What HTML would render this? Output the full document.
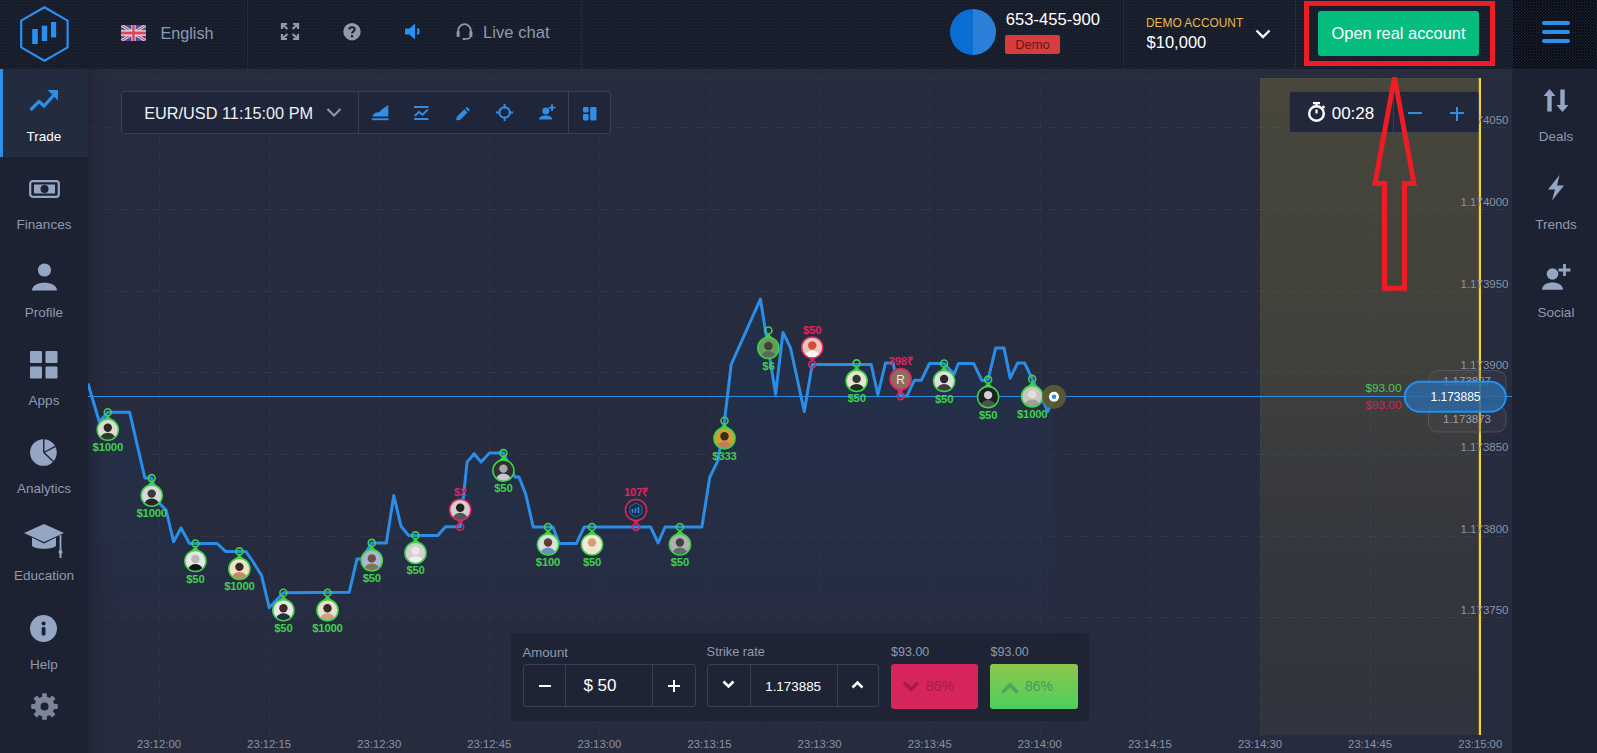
<!DOCTYPE html>
<html><head><meta charset="utf-8">
<style>
*{margin:0;padding:0;box-sizing:border-box}
html,body{width:1597px;height:753px;overflow:hidden;background:#252a3c;font-family:"Liberation Sans",sans-serif}
.a{position:absolute}
.t{position:absolute;white-space:nowrap;line-height:1}
#hdr{left:0;top:0;width:1597px;height:69px;background-color:#181d2b;background-image:radial-gradient(circle at 1.5px 1.5px,#232838 0.8px,transparent 1px);background-size:3px 3px}
#lsb{left:0;top:69px;width:88px;height:684px;background:#1d2232}
#rsb{left:1512px;top:69px;width:85px;height:684px;background:#1d2232}
#chart{left:88px;top:69px;width:1424px;height:684px;background:#272b3e}
#strip{left:88px;top:69px;width:1424px;height:9px;background:#282c3f}
.vd{position:absolute;top:0;width:1px;height:69px;background:#252a39}
.lbl{position:absolute;left:0;width:88px;text-align:center;color:#8d9ab0;font-size:13.5px;line-height:1;white-space:nowrap}
.rl{position:absolute;left:1513.5px;width:85px;text-align:center;color:#8d9ab0;font-size:13.5px;line-height:1;white-space:nowrap}
svg{overflow:visible}
</style></head><body>
<div id="chart" class="a"></div>
<div id="strip" class="a"></div>
<svg class="a" style="left:0;top:0" width="1597" height="753" viewBox="0 0 1597 753" font-family="Liberation Sans, sans-serif"><defs><linearGradient id="yz" x1="0" y1="0" x2="0" y2="1"><stop offset="0" stop-color="#49473b"/><stop offset="0.11" stop-color="#45453b"/><stop offset="0.353" stop-color="#42423c"/><stop offset="0.49" stop-color="#3e3e3d"/><stop offset="0.658" stop-color="#36383d"/><stop offset="0.78" stop-color="#33363d"/><stop offset="1" stop-color="#30343e"/></linearGradient><linearGradient id="area" x1="0" y1="0" x2="0" y2="1"><stop offset="0" stop-color="#22304b" stop-opacity="0.95"/><stop offset="0.6" stop-color="#24304a" stop-opacity="0.5"/><stop offset="1" stop-color="#272b3e" stop-opacity="0"/></linearGradient><linearGradient id="ledge" x1="0" y1="0" x2="1" y2="0"><stop offset="0" stop-color="#1d2232" stop-opacity="0.6"/><stop offset="1" stop-color="#252a3c" stop-opacity="0"/></linearGradient><clipPath id="cp0"><circle cx="107.8" cy="429.7" r="10.6"/></clipPath><clipPath id="cp1"><circle cx="151.7" cy="495.6" r="10.6"/></clipPath><clipPath id="cp2"><circle cx="195.4" cy="561.0" r="10.6"/></clipPath><clipPath id="cp3"><circle cx="239.4" cy="568.9" r="10.6"/></clipPath><clipPath id="cp4"><circle cx="283.4" cy="610.3" r="10.6"/></clipPath><clipPath id="cp5"><circle cx="327.5" cy="610.3" r="10.6"/></clipPath><clipPath id="cp6"><circle cx="371.8" cy="560.4" r="10.6"/></clipPath><clipPath id="cp7"><circle cx="415.5" cy="552.9" r="10.6"/></clipPath><clipPath id="cp8"><circle cx="460.2" cy="509.8" r="10.6"/></clipPath><clipPath id="cp9"><circle cx="503.4" cy="470.6" r="10.6"/></clipPath><clipPath id="cp10"><circle cx="548.0" cy="544.5" r="10.6"/></clipPath><clipPath id="cp11"><circle cx="592.0" cy="544.5" r="10.6"/></clipPath><clipPath id="cp12"><circle cx="636.0" cy="510.0" r="10.6"/></clipPath><clipPath id="cp13"><circle cx="679.9" cy="544.5" r="10.6"/></clipPath><clipPath id="cp14"><circle cx="724.5" cy="438.3" r="10.6"/></clipPath><clipPath id="cp15"><circle cx="768.4" cy="348.0" r="10.6"/></clipPath><clipPath id="cp16"><circle cx="812.2" cy="347.5" r="10.6"/></clipPath><clipPath id="cp17"><circle cx="856.6" cy="380.9" r="10.6"/></clipPath><clipPath id="cp18"><circle cx="900.6" cy="379.1" r="10.6"/></clipPath><clipPath id="cp19"><circle cx="944.1" cy="381.0" r="10.6"/></clipPath><clipPath id="cp20"><circle cx="988.1" cy="397.1" r="10.6"/></clipPath><clipPath id="cp21"><circle cx="1032.2" cy="396.4" r="10.6"/></clipPath></defs><rect x="1260" y="78" width="220" height="657" fill="url(#yz)"/><path d="M159.5,78V736M269.6,78V736M379.7,78V736M489.8,78V736M599.9,78V736M710.0,78V736M820.1,78V736M930.2,78V736M1040.3,78V736M1150.4,78V736M1260.5,78V736M1370.6,78V736M1480.7,78V736" stroke="#6a8aaa" stroke-opacity="0.11" stroke-width="1" stroke-dasharray="10 6" stroke-dashoffset="5" fill="none"/><path d="M88,127.5H1512M88,209.5H1512M88,291.5H1512M88,372.5H1512M88,454.5H1512M88,536.5H1512M88,617.5H1512" stroke="#6a8aaa" stroke-opacity="0.12" stroke-width="1" stroke-dasharray="10 6" fill="none"/><path d="M88,78.5H1512" stroke="#7a8aa8" stroke-opacity="0.12" stroke-width="1" stroke-dasharray="2 2"/><polygon points="88,383.5 99.3,421.7 107.8,412.2 129.6,412.2 144.9,478.1 151.7,478.1 159.7,503.6 166.1,510 173.6,541.8 181,528 189.5,543.5 217.1,543.5 225.6,551.4 245.8,551.4 253.2,562 261.7,575.8 269.2,607.7 283.4,592.8 349.2,592.3 357,559 362,559 371.8,542.9 386.3,542.9 393.8,495.5 401,526.2 408.6,535.4 437.8,535.4 445.4,526.8 460.2,526.8 467.1,462.1 474.1,453.7 481.1,462.1 489.4,453.1 503.4,453.1 515,477 519,477 525.7,494.1 533.2,527 553,527 559.1,543.5 576.4,543.5 584.2,527 650.6,527 658.1,542.9 665.1,527 701.9,527 709.7,477.4 717.9,460.7 724.5,420.8 731.2,364.5 760.4,299.1 775.6,394.3 783,332.4 790.5,347.8 804.3,411.5 812.2,364.5 871.2,364.5 877.9,394.7 885.5,363 893,363 900.6,396.1 906.8,396.1 914.4,380.3 921.3,380.3 929.4,363.5 944.1,363.5 954.1,374.3 958.5,363.5 973.6,363.5 982,380.6 988.1,379.6 995.7,347.9 1004,347.9 1010.2,378.2 1017.7,363 1024.6,363 1032.2,378.9 1048,411.3 1053.6,396.8 1053.6,736 88,736" fill="url(#area)"/><rect x="88" y="69" width="26" height="684" fill="url(#ledge)"/><path d="M88,396.5H1512" stroke="#2b8fe8" stroke-width="1.2"/><polyline points="88,383.5 99.3,421.7 107.8,412.2 129.6,412.2 144.9,478.1 151.7,478.1 159.7,503.6 166.1,510 173.6,541.8 181,528 189.5,543.5 217.1,543.5 225.6,551.4 245.8,551.4 253.2,562 261.7,575.8 269.2,607.7 283.4,592.8 349.2,592.3 357,559 362,559 371.8,542.9 386.3,542.9 393.8,495.5 401,526.2 408.6,535.4 437.8,535.4 445.4,526.8 460.2,526.8 467.1,462.1 474.1,453.7 481.1,462.1 489.4,453.1 503.4,453.1 515,477 519,477 525.7,494.1 533.2,527 553,527 559.1,543.5 576.4,543.5 584.2,527 650.6,527 658.1,542.9 665.1,527 701.9,527 709.7,477.4 717.9,460.7 724.5,420.8 731.2,364.5 760.4,299.1 775.6,394.3 783,332.4 790.5,347.8 804.3,411.5 812.2,364.5 871.2,364.5 877.9,394.7 885.5,363 893,363 900.6,396.1 906.8,396.1 914.4,380.3 921.3,380.3 929.4,363.5 944.1,363.5 954.1,374.3 958.5,363.5 973.6,363.5 982,380.6 988.1,379.6 995.7,347.9 1004,347.9 1010.2,378.2 1017.7,363 1024.6,363 1032.2,378.9 1048,411.3 1053.6,396.8" fill="none" stroke="#2a8ee8" stroke-width="3" stroke-linejoin="round"/><path d="M107.8,415.2 L100.8,422.2 L114.8,422.2 Z" fill="#3fd14a"/><g clip-path="url(#cp0)"><rect x="97.2" y="419.1" width="21.2" height="21.2" fill="#dcdcd0"/><circle cx="107.8" cy="427.7" r="4.2" fill="#2a2a2a"/><ellipse cx="107.8" cy="439.2" rx="7.5" ry="6.5" fill="#2a3a30"/></g><circle cx="107.8" cy="429.7" r="10.6" fill="none" stroke="#3fd14a" stroke-width="1.5"/><circle cx="107.8" cy="412.2" r="3.5" fill="none" stroke="#3fd14a" stroke-width="1.6"/><text x="107.8" y="451.2" fill="#3fd14a" font-size="11.3" font-weight="bold" text-anchor="middle" letter-spacing="-0.2">$1000</text><path d="M151.7,481.1 L144.7,488.1 L158.7,488.1 Z" fill="#3fd14a"/><g clip-path="url(#cp1)"><rect x="141.1" y="485.0" width="21.2" height="21.2" fill="#d8d8d8"/><circle cx="151.7" cy="493.6" r="4.2" fill="#3a3a3a"/><ellipse cx="151.7" cy="505.1" rx="7.5" ry="6.5" fill="#262626"/></g><circle cx="151.7" cy="495.6" r="10.6" fill="none" stroke="#3fd14a" stroke-width="1.5"/><circle cx="151.7" cy="478.1" r="3.5" fill="none" stroke="#3fd14a" stroke-width="1.6"/><text x="151.7" y="517.1" fill="#3fd14a" font-size="11.3" font-weight="bold" text-anchor="middle" letter-spacing="-0.2">$1000</text><path d="M195.4,546.5 L188.4,553.5 L202.4,553.5 Z" fill="#3fd14a"/><g clip-path="url(#cp2)"><rect x="184.8" y="550.4" width="21.2" height="21.2" fill="#e6e6e6"/><circle cx="195.4" cy="559.0" r="4.2" fill="#b8b8b8"/><ellipse cx="195.4" cy="570.5" rx="7.5" ry="6.5" fill="#141414"/></g><circle cx="195.4" cy="561.0" r="10.6" fill="none" stroke="#3fd14a" stroke-width="1.5"/><circle cx="195.4" cy="543.5" r="3.5" fill="none" stroke="#3fd14a" stroke-width="1.6"/><text x="195.4" y="582.5" fill="#3fd14a" font-size="11.3" font-weight="bold" text-anchor="middle" letter-spacing="-0.2">$50</text><path d="M239.4,554.4 L232.4,561.4 L246.4,561.4 Z" fill="#3fd14a"/><g clip-path="url(#cp3)"><rect x="228.8" y="558.3" width="21.2" height="21.2" fill="#f0e2c8"/><circle cx="239.4" cy="566.9" r="4.2" fill="#3a2a20"/><ellipse cx="239.4" cy="578.4" rx="7.5" ry="6.5" fill="#c88a60"/></g><circle cx="239.4" cy="568.9" r="10.6" fill="none" stroke="#3fd14a" stroke-width="1.5"/><circle cx="239.4" cy="551.4" r="3.5" fill="none" stroke="#3fd14a" stroke-width="1.6"/><text x="239.4" y="590.4" fill="#3fd14a" font-size="11.3" font-weight="bold" text-anchor="middle" letter-spacing="-0.2">$1000</text><path d="M283.4,595.8 L276.4,602.8 L290.4,602.8 Z" fill="#3fd14a"/><g clip-path="url(#cp4)"><rect x="272.8" y="599.7" width="21.2" height="21.2" fill="#e8e8e8"/><circle cx="283.4" cy="608.3" r="4.2" fill="#402a20"/><ellipse cx="283.4" cy="619.8" rx="7.5" ry="6.5" fill="#203040"/></g><circle cx="283.4" cy="610.3" r="10.6" fill="none" stroke="#3fd14a" stroke-width="1.5"/><circle cx="283.4" cy="592.8" r="3.5" fill="none" stroke="#3fd14a" stroke-width="1.6"/><text x="283.4" y="631.8" fill="#3fd14a" font-size="11.3" font-weight="bold" text-anchor="middle" letter-spacing="-0.2">$50</text><path d="M327.5,595.8 L320.5,602.8 L334.5,602.8 Z" fill="#3fd14a"/><g clip-path="url(#cp5)"><rect x="316.9" y="599.7" width="21.2" height="21.2" fill="#e8e0d0"/><circle cx="327.5" cy="608.3" r="4.2" fill="#3a2a20"/><ellipse cx="327.5" cy="619.8" rx="7.5" ry="6.5" fill="#d0a080"/></g><circle cx="327.5" cy="610.3" r="10.6" fill="none" stroke="#3fd14a" stroke-width="1.5"/><circle cx="327.5" cy="592.8" r="3.5" fill="none" stroke="#3fd14a" stroke-width="1.6"/><text x="327.5" y="631.8" fill="#3fd14a" font-size="11.3" font-weight="bold" text-anchor="middle" letter-spacing="-0.2">$1000</text><path d="M371.8,545.9 L364.8,552.9 L378.8,552.9 Z" fill="#3fd14a"/><g clip-path="url(#cp6)"><rect x="361.2" y="549.8" width="21.2" height="21.2" fill="#a8b8d0"/><circle cx="371.8" cy="558.4" r="4.2" fill="#6a5040"/><ellipse cx="371.8" cy="569.9" rx="7.5" ry="6.5" fill="#8a7060"/></g><circle cx="371.8" cy="560.4" r="10.6" fill="none" stroke="#3fd14a" stroke-width="1.5"/><circle cx="371.8" cy="542.9" r="3.5" fill="none" stroke="#3fd14a" stroke-width="1.6"/><text x="371.8" y="581.9" fill="#3fd14a" font-size="11.3" font-weight="bold" text-anchor="middle" letter-spacing="-0.2">$50</text><path d="M415.5,538.4 L408.5,545.4 L422.5,545.4 Z" fill="#3fd14a"/><g clip-path="url(#cp7)"><rect x="404.9" y="542.3" width="21.2" height="21.2" fill="#d0d0d0"/><circle cx="415.5" cy="550.9" r="4.2" fill="#e8e8e8"/><ellipse cx="415.5" cy="562.4" rx="7.5" ry="6.5" fill="#f0f0f0"/></g><circle cx="415.5" cy="552.9" r="10.6" fill="none" stroke="#3fd14a" stroke-width="1.5"/><circle cx="415.5" cy="535.4" r="3.5" fill="none" stroke="#3fd14a" stroke-width="1.6"/><text x="415.5" y="574.4" fill="#3fd14a" font-size="11.3" font-weight="bold" text-anchor="middle" letter-spacing="-0.2">$50</text><path d="M460.2,523.8 L453.2,517.3 L467.2,517.3 Z" fill="#e0245e"/><g clip-path="url(#cp8)"><rect x="449.6" y="499.2" width="21.2" height="21.2" fill="#d0d0d0"/><circle cx="460.2" cy="507.8" r="4.2" fill="#222222"/><ellipse cx="460.2" cy="519.3" rx="7.5" ry="6.5" fill="#555555"/></g><circle cx="460.2" cy="509.8" r="10.6" fill="none" stroke="#e0245e" stroke-width="1.5"/><circle cx="460.2" cy="526.8" r="3.5" fill="none" stroke="#e0245e" stroke-width="1.6"/><text x="460.2" y="495.8" fill="#e0245e" font-size="11.3" font-weight="bold" text-anchor="middle" letter-spacing="-0.2">$2</text><path d="M503.4,456.1 L496.4,463.1 L510.4,463.1 Z" fill="#3fd14a"/><g clip-path="url(#cp9)"><rect x="492.8" y="460.0" width="21.2" height="21.2" fill="#303030"/><circle cx="503.4" cy="468.6" r="4.2" fill="#aaaaaa"/><ellipse cx="503.4" cy="480.1" rx="7.5" ry="6.5" fill="#c8c8d0"/></g><circle cx="503.4" cy="470.6" r="10.6" fill="none" stroke="#3fd14a" stroke-width="1.5"/><circle cx="503.4" cy="453.1" r="3.5" fill="none" stroke="#3fd14a" stroke-width="1.6"/><text x="503.4" y="492.1" fill="#3fd14a" font-size="11.3" font-weight="bold" text-anchor="middle" letter-spacing="-0.2">$50</text><path d="M548.0,530.0 L541.0,537.0 L555.0,537.0 Z" fill="#3fd14a"/><g clip-path="url(#cp10)"><rect x="537.4" y="533.9" width="21.2" height="21.2" fill="#d8e0e0"/><circle cx="548.0" cy="542.5" r="4.2" fill="#5a4030"/><ellipse cx="548.0" cy="554.0" rx="7.5" ry="6.5" fill="#6a90c0"/></g><circle cx="548.0" cy="544.5" r="10.6" fill="none" stroke="#3fd14a" stroke-width="1.5"/><circle cx="548.0" cy="527.0" r="3.5" fill="none" stroke="#3fd14a" stroke-width="1.6"/><text x="548.0" y="566.0" fill="#3fd14a" font-size="11.3" font-weight="bold" text-anchor="middle" letter-spacing="-0.2">$100</text><path d="M592.0,530.0 L585.0,537.0 L599.0,537.0 Z" fill="#3fd14a"/><g clip-path="url(#cp11)"><rect x="581.4" y="533.9" width="21.2" height="21.2" fill="#f0e8d8"/><circle cx="592.0" cy="542.5" r="4.2" fill="#d0a070"/><ellipse cx="592.0" cy="554.0" rx="7.5" ry="6.5" fill="#f0e0d0"/></g><circle cx="592.0" cy="544.5" r="10.6" fill="none" stroke="#3fd14a" stroke-width="1.5"/><circle cx="592.0" cy="527.0" r="3.5" fill="none" stroke="#3fd14a" stroke-width="1.6"/><text x="592.0" y="566.0" fill="#3fd14a" font-size="11.3" font-weight="bold" text-anchor="middle" letter-spacing="-0.2">$50</text><path d="M636.0,524.0 L629.0,517.5 L643.0,517.5 Z" fill="#e0245e"/><g clip-path="url(#cp12)"><rect x="625.4" y="499.4" width="21.2" height="21.2" fill="#1e2a40"/></g><circle cx="636.0" cy="510.0" r="10.6" fill="none" stroke="#e0245e" stroke-width="1.5"/><circle cx="636.0" cy="527.0" r="3.5" fill="none" stroke="#e0245e" stroke-width="1.6"/><path d="M632.5,513.0v-4M635.5,513.0v-5M638.5,513.0v-6" stroke="#2a8ce6" stroke-width="1.6"/><path d="M636.0,503.0l6,3.5v7l-6,3.5l-6,-3.5v-7z" fill="none" stroke="#2a6fb5" stroke-width="0.9"/><text x="636.0" y="496.0" fill="#e0245e" font-size="11.3" font-weight="bold" text-anchor="middle" letter-spacing="-0.2">107₹</text><path d="M679.9,530.0 L672.9,537.0 L686.9,537.0 Z" fill="#3fd14a"/><g clip-path="url(#cp13)"><rect x="669.3" y="533.9" width="21.2" height="21.2" fill="#b0b0b0"/><circle cx="679.9" cy="542.5" r="4.2" fill="#404040"/><ellipse cx="679.9" cy="554.0" rx="7.5" ry="6.5" fill="#606870"/></g><circle cx="679.9" cy="544.5" r="10.6" fill="none" stroke="#3fd14a" stroke-width="1.5"/><circle cx="679.9" cy="527.0" r="3.5" fill="none" stroke="#3fd14a" stroke-width="1.6"/><text x="679.9" y="566.0" fill="#3fd14a" font-size="11.3" font-weight="bold" text-anchor="middle" letter-spacing="-0.2">$50</text><path d="M724.5,423.8 L717.5,430.8 L731.5,430.8 Z" fill="#3fd14a"/><g clip-path="url(#cp14)"><rect x="713.9" y="427.7" width="21.2" height="21.2" fill="#d0a030"/><circle cx="724.5" cy="436.3" r="4.2" fill="#3a2a20"/><ellipse cx="724.5" cy="447.8" rx="7.5" ry="6.5" fill="#c08060"/></g><circle cx="724.5" cy="438.3" r="10.6" fill="none" stroke="#3fd14a" stroke-width="1.5"/><circle cx="724.5" cy="420.8" r="3.5" fill="none" stroke="#3fd14a" stroke-width="1.6"/><text x="724.5" y="459.8" fill="#3fd14a" font-size="11.3" font-weight="bold" text-anchor="middle" letter-spacing="-0.2">$333</text><path d="M768.4,333.5 L761.4,340.5 L775.4,340.5 Z" fill="#3fd14a"/><g clip-path="url(#cp15)"><rect x="757.8" y="337.4" width="21.2" height="21.2" fill="#6a9a5a"/><circle cx="768.4" cy="346.0" r="4.2" fill="#404040"/><ellipse cx="768.4" cy="357.5" rx="7.5" ry="6.5" fill="#5a6a5a"/></g><circle cx="768.4" cy="348.0" r="10.6" fill="none" stroke="#3fd14a" stroke-width="1.5"/><circle cx="768.4" cy="330.5" r="3.5" fill="none" stroke="#3fd14a" stroke-width="1.6"/><text x="768.4" y="369.5" fill="#3fd14a" font-size="11.3" font-weight="bold" text-anchor="middle" letter-spacing="-0.2">$6</text><path d="M812.2,361.5 L805.2,355.0 L819.2,355.0 Z" fill="#e0245e"/><g clip-path="url(#cp16)"><rect x="801.6" y="336.9" width="21.2" height="21.2" fill="#e8c8bc"/><circle cx="812.2" cy="345.5" r="4.2" fill="#d84a38"/><ellipse cx="812.2" cy="357.0" rx="7.5" ry="6.5" fill="#f8f8f8"/></g><circle cx="812.2" cy="347.5" r="10.6" fill="none" stroke="#e0245e" stroke-width="1.5"/><circle cx="812.2" cy="364.5" r="3.5" fill="none" stroke="#e0245e" stroke-width="1.6"/><text x="812.2" y="333.5" fill="#e0245e" font-size="11.3" font-weight="bold" text-anchor="middle" letter-spacing="-0.2">$50</text><path d="M856.6,366.4 L849.6,373.4 L863.6,373.4 Z" fill="#3fd14a"/><g clip-path="url(#cp17)"><rect x="846.0" y="370.3" width="21.2" height="21.2" fill="#e8e4d0"/><circle cx="856.6" cy="378.9" r="4.2" fill="#303830"/><ellipse cx="856.6" cy="390.4" rx="7.5" ry="6.5" fill="#203020"/></g><circle cx="856.6" cy="380.9" r="10.6" fill="none" stroke="#3fd14a" stroke-width="1.5"/><circle cx="856.6" cy="363.4" r="3.5" fill="none" stroke="#3fd14a" stroke-width="1.6"/><text x="856.6" y="402.4" fill="#3fd14a" font-size="11.3" font-weight="bold" text-anchor="middle" letter-spacing="-0.2">$50</text><path d="M900.6,393.1 L893.6,386.6 L907.6,386.6 Z" fill="#e0245e"/><g clip-path="url(#cp18)"><rect x="890.0" y="368.5" width="21.2" height="21.2" fill="#8f6a5e"/></g><circle cx="900.6" cy="379.1" r="10.6" fill="none" stroke="#e0245e" stroke-width="1.5"/><circle cx="900.6" cy="396.1" r="3.5" fill="none" stroke="#e0245e" stroke-width="1.6"/><text x="900.6" y="383.6" fill="#f0e8e0" font-size="12" text-anchor="middle">R</text><text x="900.6" y="365.1" fill="#e0245e" font-size="11.3" font-weight="bold" text-anchor="middle" letter-spacing="-0.2">398₹</text><path d="M944.1,366.5 L937.1,373.5 L951.1,373.5 Z" fill="#3fd14a"/><g clip-path="url(#cp19)"><rect x="933.5" y="370.4" width="21.2" height="21.2" fill="#e0e0e0"/><circle cx="944.1" cy="379.0" r="4.2" fill="#2a2a2a"/><ellipse cx="944.1" cy="390.5" rx="7.5" ry="6.5" fill="#404040"/></g><circle cx="944.1" cy="381.0" r="10.6" fill="none" stroke="#3fd14a" stroke-width="1.5"/><circle cx="944.1" cy="363.5" r="3.5" fill="none" stroke="#3fd14a" stroke-width="1.6"/><text x="944.1" y="402.5" fill="#3fd14a" font-size="11.3" font-weight="bold" text-anchor="middle" letter-spacing="-0.2">$50</text><path d="M988.1,382.6 L981.1,389.6 L995.1,389.6 Z" fill="#3fd14a"/><g clip-path="url(#cp20)"><rect x="977.5" y="386.5" width="21.2" height="21.2" fill="#202020"/><circle cx="988.1" cy="395.1" r="4.2" fill="#d0d0d0"/><ellipse cx="988.1" cy="406.6" rx="7.5" ry="6.5" fill="#505050"/></g><circle cx="988.1" cy="397.1" r="10.6" fill="none" stroke="#3fd14a" stroke-width="1.5"/><circle cx="988.1" cy="379.6" r="3.5" fill="none" stroke="#3fd14a" stroke-width="1.6"/><text x="988.1" y="418.6" fill="#3fd14a" font-size="11.3" font-weight="bold" text-anchor="middle" letter-spacing="-0.2">$50</text><path d="M1032.2,381.9 L1025.2,388.9 L1039.2,388.9 Z" fill="#3fd14a"/><g clip-path="url(#cp21)"><rect x="1021.6" y="385.8" width="21.2" height="21.2" fill="#c8c8c0"/><circle cx="1032.2" cy="394.4" r="4.2" fill="#e0e0d8"/><ellipse cx="1032.2" cy="405.9" rx="7.5" ry="6.5" fill="#a0a098"/></g><circle cx="1032.2" cy="396.4" r="10.6" fill="none" stroke="#3fd14a" stroke-width="1.5"/><circle cx="1032.2" cy="378.9" r="3.5" fill="none" stroke="#3fd14a" stroke-width="1.6"/><text x="1032.2" y="417.9" fill="#3fd14a" font-size="11.3" font-weight="bold" text-anchor="middle" letter-spacing="-0.2">$1000</text><circle cx="1054" cy="396.8" r="12" fill="#5c5b34" fill-opacity="0.92"/><circle cx="1054" cy="396.8" r="5" fill="#fff"/><circle cx="1054" cy="396.8" r="2.3" fill="#2a8ee8"/><rect x="1478.8" y="78" width="2.2" height="657" fill="#f8d21c"/><text x="1508.5" y="123.5" fill="#8a93a6" font-size="11.5" text-anchor="end">1.174050</text><text x="1508.5" y="206.0" fill="#8a93a6" font-size="11.5" text-anchor="end">1.174000</text><text x="1508.5" y="288.0" fill="#8a93a6" font-size="11.5" text-anchor="end">1.173950</text><text x="1508.5" y="369.0" fill="#8a93a6" font-size="11.5" text-anchor="end">1.173900</text><text x="1508.5" y="451.0" fill="#8a93a6" font-size="11.5" text-anchor="end">1.173850</text><text x="1508.5" y="533.0" fill="#8a93a6" font-size="11.5" text-anchor="end">1.173800</text><text x="1508.5" y="614.0" fill="#8a93a6" font-size="11.5" text-anchor="end">1.173750</text><text x="159.0" y="748.4" fill="#8a93a6" font-size="11.3" text-anchor="middle">23:12:00</text><text x="269.1" y="748.4" fill="#8a93a6" font-size="11.3" text-anchor="middle">23:12:15</text><text x="379.2" y="748.4" fill="#8a93a6" font-size="11.3" text-anchor="middle">23:12:30</text><text x="489.3" y="748.4" fill="#8a93a6" font-size="11.3" text-anchor="middle">23:12:45</text><text x="599.4" y="748.4" fill="#8a93a6" font-size="11.3" text-anchor="middle">23:13:00</text><text x="709.5" y="748.4" fill="#8a93a6" font-size="11.3" text-anchor="middle">23:13:15</text><text x="819.6" y="748.4" fill="#8a93a6" font-size="11.3" text-anchor="middle">23:13:30</text><text x="929.7" y="748.4" fill="#8a93a6" font-size="11.3" text-anchor="middle">23:13:45</text><text x="1039.8" y="748.4" fill="#8a93a6" font-size="11.3" text-anchor="middle">23:14:00</text><text x="1149.9" y="748.4" fill="#8a93a6" font-size="11.3" text-anchor="middle">23:14:15</text><text x="1260.0" y="748.4" fill="#8a93a6" font-size="11.3" text-anchor="middle">23:14:30</text><text x="1370.1" y="748.4" fill="#8a93a6" font-size="11.3" text-anchor="middle">23:14:45</text><text x="1480.2" y="748.4" fill="#8a93a6" font-size="11.3" text-anchor="middle">23:15:00</text><rect x="1428.5" y="370.5" width="77.5" height="26" rx="9" fill="#4a4d55" fill-opacity="0.25" stroke="#6a6e78" stroke-opacity="0.5"/><rect x="1428.5" y="405.5" width="77.5" height="26.5" rx="9" fill="#4a4d55" fill-opacity="0.25" stroke="#6a6e78" stroke-opacity="0.5"/><text x="1467" y="385" fill="#9aa0ac" font-size="11.5" text-anchor="middle">1.173897</text><text x="1467" y="423" fill="#9aa0ac" font-size="11.5" text-anchor="middle">1.173873</text><rect x="1404.8" y="381.8" width="101" height="30" rx="15" fill="#2d68a2" fill-opacity="0.85" stroke="#2190f0" stroke-width="2"/><text x="1455.5" y="400.5" fill="#fff" font-size="12" text-anchor="middle">1.173885</text><text x="1401.5" y="391.5" fill="#4cc860" font-size="11.8" text-anchor="end">$93.00</text><text x="1401.5" y="409" fill="#d0245a" font-size="11.8" text-anchor="end">$93.00</text></svg><!-- HEADER -->
<div id="hdr" class="a"></div>
<div class="a" style="left:1512.5px;top:0;width:84.5px;height:69px;background-color:#1b2234;background-image:radial-gradient(circle at 1px 1px,#0a0c13 0.8px,transparent 1.1px),radial-gradient(circle at 2.5px 2.5px,#0a0c13 0.8px,transparent 1.1px);background-size:3px 3px,3px 3px"></div>
<div class="vd" style="left:247px"></div>
<div class="vd" style="left:581px"></div>
<div class="vd" style="left:1123px"></div>
<div class="vd" style="left:1295px"></div>
<svg class="a" style="left:0;top:0" width="90" height="69" viewBox="0 0 90 69">
  <path d="M44.4,7.2 L67.6,20.6 L67.6,47.4 L44.4,60.8 L21.2,47.4 L21.2,20.6 Z" fill="none" stroke="#2b8ff0" stroke-width="2.2" stroke-linejoin="round"/>
  <rect x="32.2" y="29" width="5.6" height="15" fill="#2b8ff0"/>
  <rect x="41.8" y="25.7" width="5.4" height="15.3" fill="#2b8ff0"/>
  <rect x="51" y="22" width="5.2" height="15.4" fill="#2b8ff0"/>
</svg>
<svg class="a" style="left:121px;top:25px;overflow:hidden" width="25" height="16" viewBox="0 0 60 30" preserveAspectRatio="none">
  <rect width="60" height="30" fill="#4450a4"/>
  <path d="M0,0 L60,30 M60,0 L0,30" stroke="#e8e8f0" stroke-width="6"/>
  <path d="M0,0 L60,30 M60,0 L0,30" stroke="#d84a5a" stroke-width="2.5"/>
  <path d="M30,0 V30 M0,15 H60" stroke="#e8e8f0" stroke-width="10"/>
  <path d="M30,0 V30 M0,15 H60" stroke="#e04458" stroke-width="6"/>
</svg>
<div class="t" style="left:160.4px;top:24.8px;font-size:16.2px;color:#8d9ab0">English</div>
<!-- expand icon -->
<svg class="a" style="left:281px;top:23px" width="18" height="17" viewBox="0 0 18 17" fill="none" stroke="#8d9ab0" stroke-width="2.2">
  <path d="M1,6V1H6M1,1L6.5,6M12,1H17V6M17,1L11.5,6M1,11V16H6M1,16L6.5,11M12,16H17V11M17,16L11.5,11"/>
</svg>
<svg class="a" style="left:343px;top:23px" width="18" height="18" viewBox="0 0 18 18">
  <circle cx="9" cy="8.7" r="8.7" fill="#8d9ab0"/>
  <path d="M6.3,6.6 C6.3,3.6 11.7,3.6 11.7,6.6 C11.7,8.4 9,8.4 9,10.6" fill="none" stroke="#1a1e2d" stroke-width="2"/>
  <circle cx="9" cy="13.2" r="1.2" fill="#1a1e2d"/>
</svg>
<svg class="a" style="left:405px;top:23px" width="17" height="17" viewBox="0 0 17 17">
  <path d="M0,5.5H4.5L10,0.5V16.5L4.5,11.5H0Z" fill="#2b8ff0"/>
  <path d="M12.5,5.5 Q14.8,8.5 12.5,11.5" fill="none" stroke="#2b8ff0" stroke-width="2"/>
</svg>
<svg class="a" style="left:456px;top:23px" width="17" height="17" viewBox="0 0 17 17" fill="none" stroke="#8d9ab0">
  <path d="M2.2,9 V7.5 A6.3,6.3 0 0 1 14.8,7.5 V9" stroke-width="1.8"/>
  <rect x="0.6" y="8" width="3" height="6" rx="1" fill="#8d9ab0" stroke="none"/>
  <rect x="13.4" y="8" width="3" height="6" rx="1" fill="#8d9ab0" stroke="none"/>
  <path d="M14.5,13.5 Q14,16 10,16" stroke-width="1.3"/>
  <rect x="6.5" y="15" width="3.5" height="2" rx="1" fill="#8d9ab0" stroke="none"/>
</svg>
<div class="t" style="left:483.1px;top:25.4px;font-size:16.6px;color:#8d9ab0">Live chat</div>
<svg class="a" style="left:950px;top:9px" width="46" height="46" viewBox="0 0 46 46">
  <clipPath id="cc"><circle cx="23" cy="23" r="23"/></clipPath>
  <g clip-path="url(#cc)"><rect width="23" height="46" fill="#0b6ed2"/><rect x="23" width="23" height="46" fill="#2a80d8"/></g>
</svg>
<div class="t" style="left:1005.8px;top:12.4px;font-size:16.6px;color:#ffffff">653-455-900</div>
<div class="a" style="left:1005px;top:35px;width:55px;height:19px;background:#d83c3c;border-radius:2px"></div>
<div class="t" style="left:1005px;top:37.5px;width:55px;text-align:center;font-size:13px;color:#5a1c1e">Demo</div>
<div class="t" style="left:1146.2px;top:16.5px;font-size:12.8px;color:#e6b94c;transform:scaleX(0.93);transform-origin:0 0">DEMO ACCOUNT</div>
<div class="t" style="left:1146.6px;top:33.5px;font-size:16.5px;color:#ffffff">$10,000</div>
<svg class="a" style="left:1255px;top:28px" width="16" height="12" viewBox="0 0 16 12"><path d="M1.5,2.5 L8,9 L14.5,2.5" fill="none" stroke="#fff" stroke-width="2.4"/></svg>
<div class="a" style="left:1318px;top:11px;width:161px;height:45px;background:#05bd7f;border-radius:3px"></div>
<div class="t" style="left:1318px;top:25px;width:161px;text-align:center;font-size:16.4px;color:#ffffff">Open real account</div>
<div class="a" style="left:1304px;top:1px;width:191px;height:65px;border:5px solid #ee1c25"></div>
<div class="a" style="left:1542px;top:21px;width:28px;height:4px;background:#2d8fe8;border-radius:2px"></div>
<div class="a" style="left:1542px;top:30px;width:28px;height:4px;background:#2d8fe8;border-radius:2px"></div>
<div class="a" style="left:1542px;top:39px;width:28px;height:4px;background:#2d8fe8;border-radius:2px"></div>

<!-- LEFT SIDEBAR -->
<div id="lsb" class="a"></div>
<div class="a" style="left:0;top:69px;width:88px;height:88px;background:#232b3e"></div>
<div class="a" style="left:0;top:69px;width:3px;height:88px;background:#2d8fe8"></div>
<svg class="a" style="left:29px;top:89px" width="30" height="23" viewBox="0 0 30 23"><path d="M1.5,21 L10,12.5 L15,17 L24.5,6.5" fill="none" stroke="#2d8fe8" stroke-width="3.2"/><path d="M18.5,1 H29 V11.5 Z" fill="#2d8fe8"/></svg>
<div class="lbl" style="top:129.6px;color:#ffffff">Trade</div>
<svg class="a" style="left:28.6px;top:179.6px" width="31" height="18" viewBox="0 0 31 18"><rect x="1.2" y="1.2" width="28.6" height="15.6" rx="2.5" fill="none" stroke="#94a6c4" stroke-width="2.2"/><rect x="5" y="4.5" width="21" height="9" fill="#94a6c4"/><circle cx="15.5" cy="9" r="4" fill="#1d2232"/></svg>
<div class="lbl" style="top:218px">Finances</div>
<svg class="a" style="left:31.7px;top:263px" width="25" height="28" viewBox="0 0 25 28"><circle cx="12.5" cy="7" r="6.6" fill="#94a6c4"/><path d="M0,27.5 C0,17 25,17 25,27.5 Z" fill="#94a6c4"/></svg>
<div class="lbl" style="top:305.5px">Profile</div>
<svg class="a" style="left:30.3px;top:350.7px" width="28" height="28" viewBox="0 0 28 28" fill="#94a6c4"><rect x="0" y="0" width="12" height="12" rx="1"/><rect x="15.5" y="0" width="12" height="12" rx="1"/><rect x="0" y="15.5" width="12" height="12" rx="1"/><rect x="15.5" y="15.5" width="12" height="12" rx="1"/></svg>
<div class="lbl" style="top:394.2px">Apps</div>
<svg class="a" style="left:30px;top:439px" width="27" height="27" viewBox="0 0 27 27"><circle cx="13.4" cy="13.5" r="13.3" fill="#94a6c4"/><path d="M13.8,13.5 V0 M13.8,13.5 L25.5,7.3 M13.8,13.5 L23.3,22.5" stroke="#1d2232" stroke-width="1.4" fill="none"/></svg>
<div class="lbl" style="top:482.1px">Analytics</div>
<svg class="a" style="left:23.4px;top:524px" width="42" height="34" viewBox="0 0 42 34"><path d="M21,0 L41,9 L21,18 L1,9 Z" fill="#94a6c4"/><path d="M9,13.5 V21 C9,26 33,26 33,21 V13.5 L21,19.5 Z" fill="#94a6c4"/><path d="M37.5,11 V29" stroke="#94a6c4" stroke-width="1.8"/><circle cx="37.5" cy="28" r="2" fill="#94a6c4"/><rect x="36.5" y="28" width="2" height="6" fill="#94a6c4"/></svg>
<div class="lbl" style="top:569.4px">Education</div>
<svg class="a" style="left:30.3px;top:614.9px" width="27" height="27" viewBox="0 0 27 27"><circle cx="13.5" cy="13.5" r="13.5" fill="#94a6c4"/><circle cx="13.6" cy="8.5" r="2.1" fill="#1d2232"/><rect x="11.7" y="12" width="3.8" height="8.5" rx="1.2" fill="#1d2232"/></svg>
<div class="lbl" style="top:658.1px">Help</div>
<svg class="a" style="left:30.7px;top:693.2px" width="27" height="27" viewBox="0 0 27 27"><g fill="#7c8698" transform="translate(13.5,13.5)"><circle r="10"/><rect x="-2.4" y="-13.3" width="4.8" height="5" rx="0.8" transform="rotate(0)"/><rect x="-2.4" y="-13.3" width="4.8" height="5" rx="0.8" transform="rotate(45)"/><rect x="-2.4" y="-13.3" width="4.8" height="5" rx="0.8" transform="rotate(90)"/><rect x="-2.4" y="-13.3" width="4.8" height="5" rx="0.8" transform="rotate(135)"/><rect x="-2.4" y="-13.3" width="4.8" height="5" rx="0.8" transform="rotate(180)"/><rect x="-2.4" y="-13.3" width="4.8" height="5" rx="0.8" transform="rotate(225)"/><rect x="-2.4" y="-13.3" width="4.8" height="5" rx="0.8" transform="rotate(270)"/><rect x="-2.4" y="-13.3" width="4.8" height="5" rx="0.8" transform="rotate(315)"/><circle r="4" fill="#1d2232"/></g></svg>

<!-- RIGHT SIDEBAR -->
<div id="rsb" class="a"></div>
<svg class="a" style="left:1543px;top:89.4px" width="26" height="23" viewBox="0 0 26 23"><path d="M6.5,0 L12.5,7 H8.7 V22.5 H4.3 V7 H0.5 Z" fill="#94a6c4"/><path d="M19.5,23 L25.5,16 H21.7 V0.5 H17.3 V16 H13.5 Z" fill="#94a6c4"/></svg>
<div class="rl" style="top:129.8px">Deals</div>
<svg class="a" style="left:1546.8px;top:175.4px" width="18" height="26" viewBox="0 0 18 26"><path d="M12.5,0 L1,14.5 H8 L5,25.5 L17,10.5 H10 Z" fill="#94a6c4"/></svg>
<div class="rl" style="top:217.7px">Trends</div>
<svg class="a" style="left:1542px;top:263.6px" width="28" height="26" viewBox="0 0 28 26"><circle cx="10.5" cy="10" r="5.8" fill="#94a6c4"/><path d="M0,25.8 C0,16 21,16 21,25.8 Z" fill="#94a6c4"/><path d="M22.5,0 V12 M16.5,6 H28.5" stroke="#94a6c4" stroke-width="2.8"/></svg>
<div class="rl" style="top:305.5px">Social</div>

<!-- TOOLBAR -->
<div class="a" style="left:121px;top:91.3px;width:490px;height:42.6px;background:#20263a;border:1px solid #3a4156;border-radius:3px"></div>
<div class="a" style="left:358px;top:91.5px;width:1px;height:42.4px;background:#3a4156"></div>
<div class="a" style="left:568px;top:91.5px;width:1px;height:42.4px;background:#3a4156"></div>
<div class="t" style="left:144.2px;top:105.2px;font-size:16.3px;color:#eef0f4">EUR/USD 11:15:00 PM</div>
<svg class="a" style="left:326px;top:107px" width="16" height="11" viewBox="0 0 16 11"><path d="M1.5,2 L8,8.5 L14.5,2" fill="none" stroke="#8d9ab0" stroke-width="2"/></svg>
<svg class="a" style="left:371.7px;top:104.9px" width="16.5" height="15.2" viewBox="0 0 16.5 15.2" fill="#2d8fe8"><path d="M0.5,11 Q1.5,8.5 3.5,7.8 L7.5,7 L9.5,4.5 L16.3,0 V11.5 H0.5 Z"/><rect x="0" y="13.3" width="16.5" height="1.9"/></svg>
<svg class="a" style="left:413.7px;top:106px" width="14.4" height="14" viewBox="0 0 14.4 14" fill="none" stroke="#2d8fe8" stroke-width="1.9"><path d="M0,1H14.4M0,13H14.4"/><path d="M0.8,10 L5,5.8 L8.5,8.8 L13.8,3.6"/></svg>
<svg class="a" style="left:455.8px;top:106.7px" width="14" height="13.5" viewBox="0 0 14 13.5" fill="#2d8fe8"><path d="M0.2,13.3 L0.8,9.8 L8.3,2.3 L11.5,5.5 L4,13 Z"/><path d="M9.3,1.3 L10.4,0.4 Q11,0 11.6,0.4 L13.4,2.2 Q13.8,2.8 13.4,3.3 L12.5,4.4 Z"/></svg>
<svg class="a" style="left:496.2px;top:103.9px" width="17.2" height="17" viewBox="0 0 17.2 17" fill="none" stroke="#2d8fe8" stroke-width="1.9"><circle cx="8.6" cy="8.5" r="5.3"/><path d="M8.6,0V4.5M8.6,12.5V17M0,8.5H4.5M12.7,8.5H17.2"/></svg>
<svg class="a" style="left:538.5px;top:104.4px" width="16.5" height="15.6" viewBox="0 0 16.5 15.6" fill="#2d8fe8"><circle cx="6.8" cy="7" r="3.5"/><path d="M0,15.6 C0,10.2 13.2,10.2 13.2,15.6 Z"/><path d="M13,0.2V7M9.6,3.6H16.4" stroke="#2d8fe8" stroke-width="1.8"/></svg>
<svg class="a" style="left:582.6px;top:106.7px" width="13.5" height="13.4" viewBox="0 0 13.5 13.4" fill="#2d8fe8"><rect x="0" y="0" width="5.6" height="5.4" rx="1.1"/><rect x="0" y="7" width="5.6" height="6.4" rx="1.1"/><rect x="7.2" y="0" width="6.3" height="13.4" rx="1.1"/></svg>

<!-- TIMER -->
<div class="a" style="left:1288.5px;top:91.3px;width:190px;height:42.2px;background:#222839;border:1px solid #3a4156;border-radius:3px"></div>
<div class="a" style="left:1393px;top:92px;width:1px;height:41px;background:#3a4050"></div>
<svg class="a" style="left:1307px;top:102px" width="20" height="20" viewBox="0 0 20 20" fill="none" stroke="#fff"><circle cx="9.5" cy="11.5" r="7.3" stroke-width="2.4"/><path d="M6,1.2H13M9.5,1.2V4M9.5,11.5V7.5" stroke-width="2.2"/><path d="M15.5,4L17.5,6" stroke-width="2"/></svg>
<div class="t" style="left:1331.7px;top:104.7px;font-size:17px;color:#ffffff">00:28</div>
<div class="a" style="left:1408px;top:112.3px;width:14px;height:2.2px;background:#2d8fe8"></div>
<div class="a" style="left:1450px;top:112.3px;width:14.3px;height:2.2px;background:#2d8fe8"></div>
<div class="a" style="left:1456px;top:106.5px;width:2.2px;height:14px;background:#2d8fe8"></div>

<!-- TRADE PANEL -->
<div class="a" style="left:511px;top:633px;width:578px;height:88px;background:#1f2435;border-radius:4px"></div>
<div class="t" style="left:522.5px;top:645.8px;font-size:13.2px;color:#8d9ab0">Amount</div>
<div class="t" style="left:706.6px;top:645.8px;font-size:12.8px;color:#8d9ab0">Strike rate</div>
<div class="t" style="left:891.1px;top:645.8px;font-size:12.5px;color:#8d9ab0">$93.00</div>
<div class="t" style="left:990.6px;top:645.8px;font-size:12.5px;color:#8d9ab0">$93.00</div>
<div class="a" style="left:522.5px;top:664.3px;width:173px;height:43.2px;border:1px solid #394055;border-radius:3px"></div>
<div class="a" style="left:565px;top:664.3px;width:1px;height:43.2px;background:#394055"></div>
<div class="a" style="left:652px;top:664.3px;width:1px;height:43.2px;background:#394055"></div>
<div class="a" style="left:538.5px;top:684.5px;width:12px;height:2px;background:#fff"></div>
<div class="a" style="left:667.6px;top:684.5px;width:12px;height:2px;background:#fff"></div>
<div class="a" style="left:672.6px;top:679.5px;width:2px;height:12px;background:#fff"></div>
<div class="t" style="left:583.4px;top:677px;font-size:17px;color:#ffffff">$ 50</div>
<div class="a" style="left:707.4px;top:664.3px;width:172px;height:43.2px;border:1px solid #394055;border-radius:3px"></div>
<div class="a" style="left:749.5px;top:664.3px;width:1px;height:43.2px;background:#394055"></div>
<div class="a" style="left:836.5px;top:664.3px;width:1px;height:43.2px;background:#394055"></div>
<svg class="a" style="left:722px;top:680px" width="13" height="9" viewBox="0 0 13 9"><path d="M1.5,1.5 L6.5,6.5 L11.5,1.5" fill="none" stroke="#fff" stroke-width="2.6"/></svg>
<svg class="a" style="left:851px;top:680px" width="13" height="9" viewBox="0 0 13 9"><path d="M1.5,7.5 L6.5,2.5 L11.5,7.5" fill="none" stroke="#fff" stroke-width="2.6"/></svg>
<div class="t" style="left:765.2px;top:679.5px;font-size:13.4px;color:#ffffff">1.173885</div>
<div class="a" style="left:891px;top:664.3px;width:87px;height:44.3px;background:#d6245c;border-radius:3px"></div>
<svg class="a" style="left:902px;top:680px" width="18" height="13" viewBox="0 0 18 13"><path d="M2,2.5 L9,9.5 L16,2.5" fill="none" stroke="#a81a48" stroke-width="3.5"/></svg>
<div class="t" style="left:926px;top:679px;font-size:14px;color:#a81c4a">86%</div>
<div class="a" style="left:990px;top:664.3px;width:88px;height:44.3px;background:linear-gradient(#8ec74c,#4ccf5e);border-radius:3px"></div>
<svg class="a" style="left:1001px;top:680.5px" width="18" height="13" viewBox="0 0 18 13"><path d="M2.5,10.5 L9,4 L15.5,10.5" fill="none" stroke="#45a862" stroke-width="3.6" stroke-linecap="round"/></svg>
<div class="t" style="left:1025px;top:679px;font-size:14px;color:#3f9e58">86%</div>

<!-- RED ARROW -->
<svg class="a" style="left:0;top:0" width="1597" height="753" viewBox="0 0 1597 753"><path d="M1394.5,77.5 L1375,183.4 L1384.5,183.4 L1384.5,288.3 L1404.5,288.3 L1404.5,183.4 L1414,183.4 Z" fill="none" stroke="#ee1c25" stroke-width="5" stroke-linejoin="miter" stroke-miterlimit="4"/></svg>
</body></html>
